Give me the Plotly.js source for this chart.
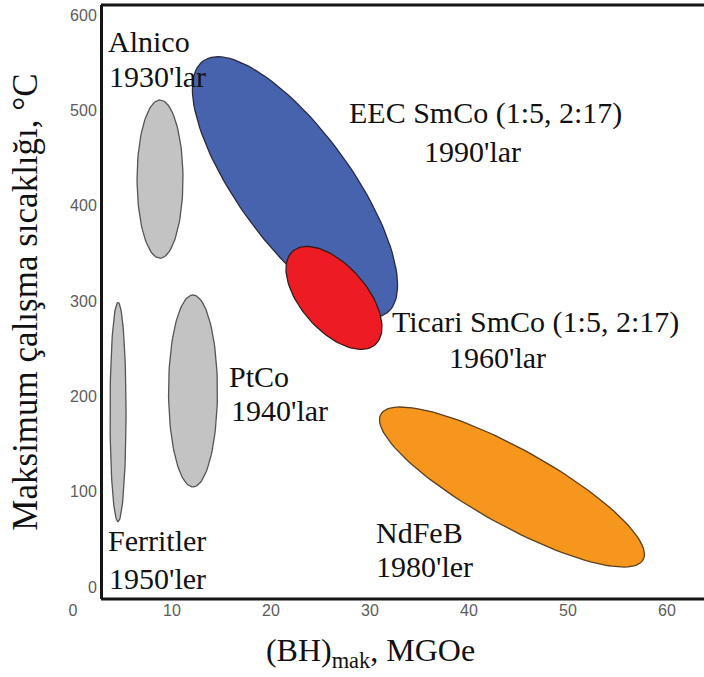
<!DOCTYPE html>
<html>
<head>
<meta charset="utf-8">
<script src="https://cdn.plot.ly/plotly-3.0.1.min.js"></script>
<style>html,body{margin:0;padding:0;background:#fff;}</style>
</head>
<body>
<div id="chart" style="width:704px;height:677px;"></div>
<script>
// Magnet families (regions)
const names    = ['Ferritler', 'Alnico', 'PtCo', 'EEC SmCo', 'Ticari SmCo', 'NdFeB'];
const centerX  = [4.55, 8.79, 12.12, 22.42, 26.36, 44.34];      // (BH)max, MGOe
const centerY  = [183.6, 428, 205.7, 419.7, 303.3, 104.9];      // °C
const majorDX  = [0, 0, 0, 9.28, 4.17, 13.25];
const majorDY  = [115, 83, 100.7, -132.2, -49.0, -76.3];
const minorDX  = [0.81, 2.32, 2.47, 4.61, 2.47, 1.87];
const minorDY  = [0, 0, 0, 34.8, 22.8, 35.1];
const fills    = ['#c3c3c3', '#c3c3c3', '#c3c3c3', '#4763ae', '#ed1c24', '#f7961d'];
const outlines = ['#555555', '#555555', '#555555', '#2a2a40', '#3a1a1a', '#5a4020'];

// Labels
const labelText = ['Alnico', "1930'lar", 'EEC SmCo (1:5, 2:17)', "1990'lar",
                   'Ticari SmCo (1:5, 2:17)', "1960'lar", 'PtCo', "1940'lar",
                   'Ferritler', "1950'ler", 'NdFeB', "1980'ler"];
const labelX    = [3.33, 3.43, 41.62, 40.40, 46.67, 42.83, 15.56, 15.76, 3.33, 3.43, 30.40, 30.40];
const labelY    = [571.9, 535.2, 497.4, 456.5, 278.1, 240.3, 220.4, 185.7, 49.3, 9.4, 57.7, 21.0];
const labelAnchor = ['left','left','center','center','center','center','left','left','left','left','left','left'];

// Axis ticks and titles
const xTicks = [0, 10, 20, 30, 40, 50, 60];
const yTicks = [0, 100, 200, 300, 400, 500, 600];
const xTitle = '(BH)<sub>mak</sub>, MGOe';
const yTitle = 'Maksimum çalışma sıcaklığı, °C';

const serif = 'Liberation Serif, Times New Roman, serif';
const sans = 'Liberation Sans, Arial, sans-serif';
const traces = names.map((n, i) => {
  const xs = [], ys = [];
  const N = 120;
  for (let k = 0; k <= N; k++) {
    const t = 2 * Math.PI * k / N;
    xs.push(centerX[i] + majorDX[i] * Math.cos(t) + minorDX[i] * Math.sin(t));
    ys.push(centerY[i] + majorDY[i] * Math.cos(t) + minorDY[i] * Math.sin(t));
  }
  return {
    type: 'scatter', mode: 'lines', name: n, x: xs, y: ys,
    fill: 'toself', fillcolor: fills[i],
    line: {color: outlines[i], width: 1.3},
    hoverinfo: 'name', showlegend: false, cliponaxis: false
  };
});

const annotations = labelText.map((t, i) => ({
  text: t, x: labelX[i], y: labelY[i], xref: 'x', yref: 'y',
  xanchor: labelAnchor[i], yanchor: 'middle', showarrow: false,
  font: {family: serif, size: 30, color: '#111'}
}));

const plotLeft = 73, plotRight = 668;
const axisPos = (101 - plotLeft) / (plotRight - plotLeft);
const edge = (704 - plotLeft) / (plotRight - plotLeft);
const layout = {
  width: 704, height: 677,
  margin: {l: plotLeft, r: 704 - plotRight, t: 5, b: 78},
  paper_bgcolor: '#fff', plot_bgcolor: '#fff',
  showlegend: false,
  xaxis: {
    range: [0, 60.1], tickvals: xTicks, ticktext: xTicks.map(String),
    showgrid: false, zeroline: false, showline: false, ticks: '',
    tickfont: {family: sans, size: 16, color: '#5c5c5c'},
    title: {text: xTitle, standoff: 20, font: {family: serif, size: 32, color: '#111'}},
    automargin: false
  },
  yaxis: {
    range: [-12.6, 610.7], tickvals: yTicks, ticktext: yTicks.map(String),
    anchor: 'free', position: axisPos,
    showgrid: false, zeroline: false, showline: true, linewidth: 3, linecolor: '#151515',
    ticks: '',
    tickfont: {family: sans, size: 16, color: '#5c5c5c'},
    title: {text: yTitle, standoff: 20, font: {family: serif, size: 35, color: '#111'}},
    automargin: false
  },
  shapes: [
    {type: 'line', xref: 'paper', yref: 'paper', x0: axisPos, x1: edge + 0.02, y0: 0, y1: 0,
     line: {color: '#151515', width: 3}},
    {type: 'line', xref: 'paper', yref: 'paper', x0: axisPos, x1: edge + 0.02, y0: 1, y1: 1,
     line: {color: '#151515', width: 3}}
  ],
  annotations: annotations
};

Plotly.newPlot('chart', traces, layout, {displayModeBar: false, staticPlot: true});
</script>
</body>
</html>
